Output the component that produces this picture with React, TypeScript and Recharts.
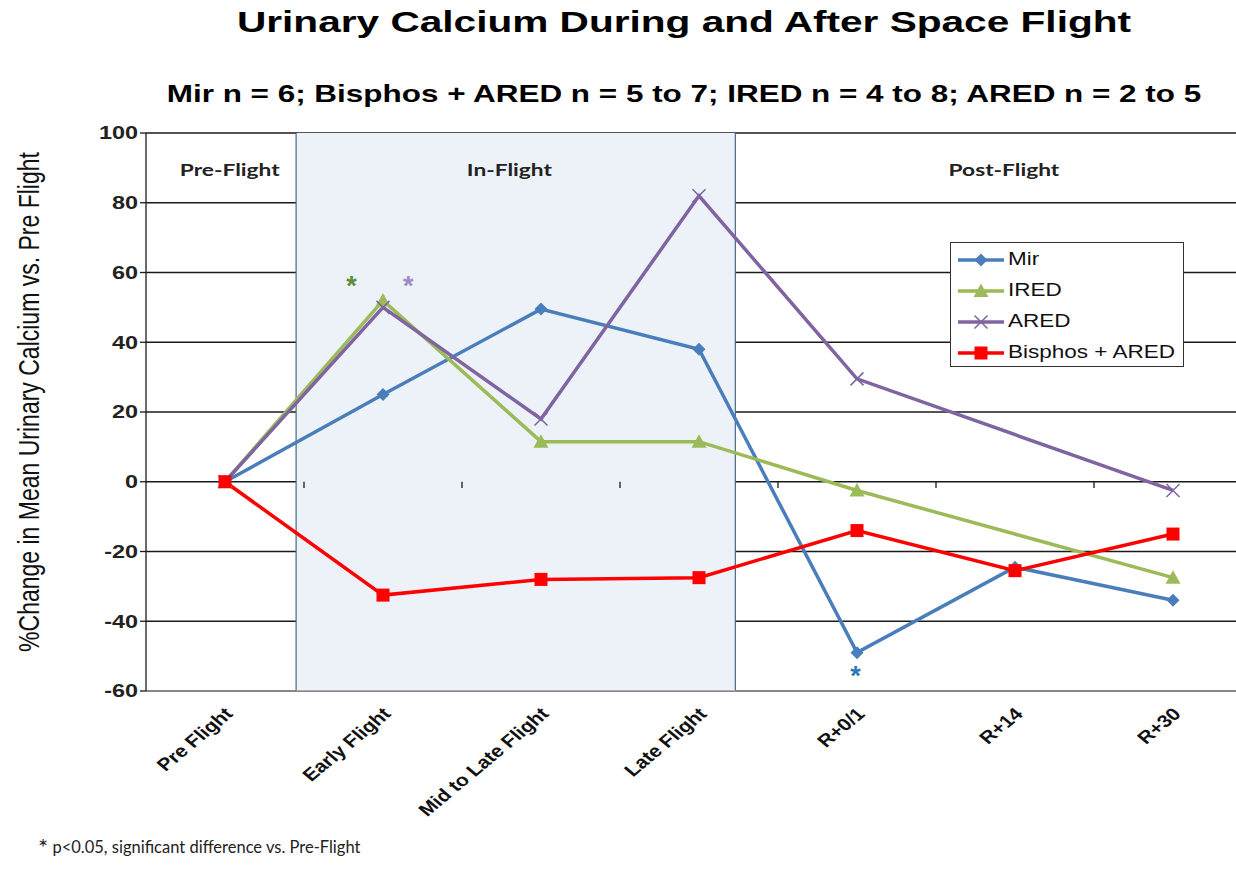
import React from 'react';
import {
  LineChart,
  Line,
  XAxis,
  YAxis,
  CartesianGrid,
  ReferenceArea,
  ReferenceLine,
  ReferenceDot,
} from 'recharts';

const CATEGORIES = ['Pre Flight', 'Early Flight', 'Mid to Late Flight', 'Late Flight', 'R+0/1', 'R+14', 'R+30'];
const MIR = [0, 25, 49.5, 38, -49, -24.5, -34];
const IRED = [0, 52, 11.5, 11.5, -2.5, null, -27.5];
const ARED = [0, 50, 18, 82, 29.5, null, -2.5];
const BISPHOS = [0, -32.5, -28, -27.5, -14, -25.5, -15];
const Y_TICKS = [-60, -40, -20, 0, 20, 40, 60, 80, 100];

// phase headers and significance stars, in data units
const PHASES = [
  { label: 'Pre-Flight', x: 0.03, y: 89.5 },
  { label: 'In-Flight', x: 1.8, y: 89.5 },
  { label: 'Post-Flight', x: 4.93, y: 89.5 },
];
const STARS = [
  { x: 0.8, y: 57.8, color: '#5f8a3a' },
  { x: 1.16, y: 57.8, color: '#9c8cc4' },
  { x: 3.99, y: -54, color: '#2e74b5' },
];

const COLORS = { mir: '#4a7ebb', ired: '#9bbb59', ared: '#8064a2', bisphos: '#ff0000' };
const ARIAL = 'Liberation Sans, Arial, sans-serif';
const CALIBRI = 'Lato, Open Sans, sans-serif';
// the source picture is stretched sideways, so text is widened to match
const STRETCH = 1.3;

const data = CATEGORIES.map((c, i) => ({
  x: i,
  name: c,
  mir: MIR[i],
  ired: IRED[i],
  ared: ARED[i],
  bisphos: BISPHOS[i],
}));

const Diamond = (props: any) => {
  const { cx, cy } = props;
  if (cx == null || cy == null || props.value == null) return null;
  const s = 6.5;
  return <path d={`M${cx},${cy - s}L${cx + s},${cy}L${cx},${cy + s}L${cx - s},${cy}Z`} fill={COLORS.mir} />;
};
const Triangle = (props: any) => {
  const { cx, cy } = props;
  if (cx == null || cy == null || props.value == null) return null;
  const s = 7.5;
  return <path d={`M${cx},${cy - s}L${cx + s},${cy + s * 0.8}L${cx - s},${cy + s * 0.8}Z`} fill={COLORS.ired} />;
};
const Cross = (props: any) => {
  const { cx, cy } = props;
  if (cx == null || cy == null || props.value == null) return null;
  const s = 6.5;
  return (
    <path
      d={`M${cx - s},${cy - s}L${cx + s},${cy + s}M${cx - s},${cy + s}L${cx + s},${cy - s}`}
      stroke={COLORS.ared}
      strokeWidth={1.5}
      fill="none"
    />
  );
};
const Square = (props: any) => {
  const { cx, cy } = props;
  if (cx == null || cy == null || props.value == null) return null;
  const s = 6.5;
  return <rect x={cx - s} y={cy - s} width={s * 2} height={s * 2} fill={COLORS.bisphos} />;
};

const XTick = (props: any) => {
  const { x, y, payload } = props;
  return (
    <g transform={`translate(${x + 9},${y + 16}) scale(1.2,1) rotate(-45)`}>
      <text textAnchor="end" fontFamily={ARIAL} fontWeight="bold" fontSize={17.5} fill="#111">
        {CATEGORIES[payload.value]}
      </text>
    </g>
  );
};

const YTick = (props: any) => {
  const { x, y, payload } = props;
  return (
    <g transform={`translate(${x},${y}) scale(${STRETCH},1)`}>
      <text textAnchor="end" dy="0.36em" fontFamily={ARIAL} fontWeight="bold" fontSize={18} fill="#222">
        {payload.value}
      </text>
    </g>
  );
};

const LEGEND_ITEMS = [
  { label: 'Mir', color: COLORS.mir, Marker: Diamond },
  { label: 'IRED', color: COLORS.ired, Marker: Triangle },
  { label: 'ARED', color: COLORS.ared, Marker: Cross },
  { label: 'Bisphos + ARED', color: COLORS.bisphos, Marker: Square },
];

const LegendBox = () => (
  <div
    style={{
      position: 'absolute',
      left: 950,
      top: 242,
      width: 234,
      height: 125,
      border: '1px solid #333',
      background: '#fff',
      boxSizing: 'border-box',
      padding: '1px 0 0 7px',
      fontFamily: ARIAL,
      fontSize: 18,
      color: '#111',
    }}
  >
    {LEGEND_ITEMS.map(({ label, color, Marker }) => (
      <div key={label} style={{ display: 'flex', alignItems: 'center', height: 31 }}>
        <svg width={46} height={20} style={{ marginRight: 4 }}>
          <line x1={0} y1={10} x2={46} y2={10} stroke={color} strokeWidth={3.5} />
          <Marker cx={23} cy={10} value={1} />
        </svg>
        <span style={{ display: 'inline-block', transform: 'scaleX(1.25)', transformOrigin: 'left center' }}>
          {label}
        </span>
      </div>
    ))}
  </div>
);

const PhaseLabel = (props: any) => {
  const { cx, cy, label } = props;
  return (
    <g transform={`translate(${cx},${cy + 6}) scale(${STRETCH},1)`}>
      <text textAnchor="middle" fontFamily={CALIBRI} fontWeight="bold" fontSize={17.5} fill="#222">
        {label}
      </text>
    </g>
  );
};

const Star = (props: any) => {
  const { cx, cy, color } = props;
  return (
    <text x={cx} y={cy + 15} textAnchor="middle" fontFamily={ARIAL} fontWeight="bold" fontSize={27} fill={color}>
      *
    </text>
  );
};

const titleStyle = (top: number, size: number, scale: number): React.CSSProperties => ({
  position: 'absolute',
  left: 684,
  top,
  transform: `translateX(-50%) scaleX(${scale})`,
  whiteSpace: 'nowrap',
  fontFamily: ARIAL,
  fontWeight: 'bold',
  fontSize: size,
  color: '#000',
});

export default function App() {
  return (
    <div
      style={{
        position: 'fixed',
        left: 0,
        top: 0,
        width: 1236,
        height: 885,
        overflow: 'hidden',
        background: '#fff',
      }}
    >
      <div style={titleStyle(6, 29, 1.4)}>Urinary Calcium During and After Space Flight</div>
      <div style={titleStyle(80, 24, 1.31)}>
        Mir n = 6; Bisphos + ARED n = 5 to 7; IRED n = 4 to 8; ARED n = 2 to 5
      </div>
      <div
        style={{
          position: 'absolute',
          left: 29,
          top: 402,
          transform: `translate(-50%, -50%) scale(${STRETCH},1) rotate(-90deg)`,
          whiteSpace: 'nowrap',
          fontFamily: ARIAL,
          fontSize: 23,
          color: '#111',
        }}
      >
        %Change in Mean Urinary Calcium vs. Pre Flight
      </div>
      <div
        style={{
          position: 'absolute',
          left: 38,
          top: 832,
          fontFamily: CALIBRI,
          fontSize: 16.5,
          color: '#222',
        }}
      >
        <span style={{ fontSize: 24, verticalAlign: '-3px' }}>*</span> p&lt;0.05, significant difference vs. Pre-Flight
      </div>

      <div style={{ position: 'absolute', left: 0, top: 0 }}>
        <LineChart width={1260} height={885} data={data} margin={{ top: 133, right: 8, bottom: 0, left: 0 }}>
          <ReferenceArea x1={0.45} x2={3.23} y1={-60} y2={100} fill="#edf1f8" fillOpacity={1} stroke="none" />
          <CartesianGrid vertical={false} stroke="#1a1a1a" strokeWidth={1.3} />
          <ReferenceLine x={0.45} stroke="#4a6785" strokeWidth={1.2} />
          <ReferenceLine x={3.23} stroke="#4a6785" strokeWidth={1.2} />
          {[0.5, 1.5, 2.5, 3.5, 4.5, 5.5].map((b) => (
            <ReferenceLine
              key={b}
              segment={[
                { x: b, y: 0 },
                { x: b, y: -1.8 },
              ]}
              stroke="#1a1a1a"
              strokeWidth={1.3}
            />
          ))}
          <XAxis
            dataKey="x"
            type="number"
            domain={[-0.5, 6.5]}
            ticks={[0, 1, 2, 3, 4, 5, 6]}
            interval={0}
            height={194}
            axisLine={{ stroke: '#999', strokeWidth: 1.3 }}
            tickLine={false}
            tick={<XTick />}
            allowDataOverflow
          />
          <YAxis
            domain={[-60, 100]}
            ticks={Y_TICKS}
            width={146}
            axisLine={{ stroke: '#1a1a1a', strokeWidth: 1.3 }}
            tickLine={{ stroke: '#1a1a1a', strokeWidth: 1.3 }}
            tickSize={6}
            tick={<YTick />}
          />
          {PHASES.map((p) => (
            <ReferenceDot
              key={p.label}
              x={p.x}
              y={p.y}
              r={0}
              shape={(s: any) => <PhaseLabel {...s} label={p.label} />}
            />
          ))}
          <Line
            dataKey="mir"
            name="Mir"
            stroke={COLORS.mir}
            strokeWidth={3.5}
            dot={<Diamond />}
            activeDot={false}
            isAnimationActive={false}
          />
          <Line
            dataKey="ired"
            name="IRED"
            stroke={COLORS.ired}
            strokeWidth={3.5}
            dot={<Triangle />}
            activeDot={false}
            connectNulls
            isAnimationActive={false}
          />
          <Line
            dataKey="ared"
            name="ARED"
            stroke={COLORS.ared}
            strokeWidth={3.5}
            dot={<Cross />}
            activeDot={false}
            connectNulls
            isAnimationActive={false}
          />
          <Line
            dataKey="bisphos"
            name="Bisphos + ARED"
            stroke={COLORS.bisphos}
            strokeWidth={3.5}
            dot={<Square />}
            activeDot={false}
            isAnimationActive={false}
          />
          {STARS.map((s, i) => (
            <ReferenceDot key={i} x={s.x} y={s.y} r={0} shape={(p: any) => <Star {...p} color={s.color} />} />
          ))}
        </LineChart>
      </div>
      <LegendBox />
    </div>
  );
}
